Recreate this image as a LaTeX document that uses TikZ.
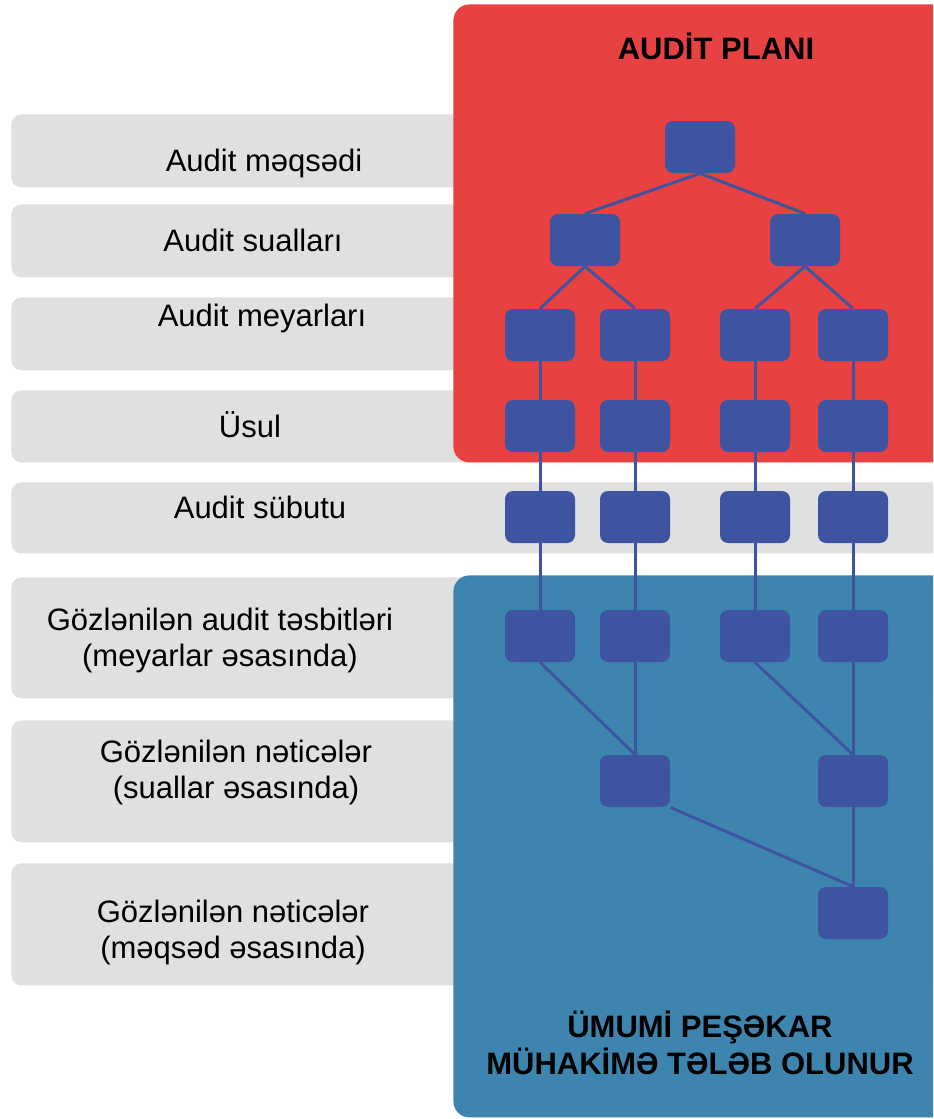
\documentclass[tikz,border=0pt]{standalone}
\usepackage{fontspec}
\setmainfont{Liberation Sans}
\usetikzlibrary{positioning, calc}
\definecolor{PlanRed}{HTML}{E74141}
\definecolor{JudgeBlue}{HTML}{3D85AE}
\definecolor{StepBlue}{HTML}{3F54A0}
\definecolor{BandGrey}{HTML}{E0E0E0}
\tikzset{
  % Row styles
  rowband/.style={rectangle, rounded corners=5pt, fill=BandGrey, anchor=north west, minimum width=474pt, inner sep=0pt},
  rowlabel/.style={font=\fontsize{15.5}{18}\selectfont, align=center, inner sep=0pt},
  % Panel styles
  panel/.style={rectangle, rounded corners=8pt, anchor=north west, minimum width=254pt, inner sep=0pt},
  paneltitle/.style={font=\fontsize{15.5}{18.5}\selectfont\bfseries, align=center, inner sep=0pt},
  % Tree styles
  stepbox/.style={rectangle, rounded corners=4pt, fill=StepBlue, minimum width=35pt, minimum height=26pt, inner sep=0pt},
  link/.style={StepBlue, line width=1.5pt}
}

\begin{document}
\begin{tikzpicture}[x=0.5pt, y=-0.5pt]
  \useasboundingbox (0,0) rectangle (933,1119);
  \clip (0,0) rectangle (933,1119);

  % grey rows
  \node[rowband, minimum height=36.5pt] (band1) at (11,114) {};
  \node[rowband, minimum height=36.5pt] (band2) at (11,204) {};
  \node[rowband, minimum height=36.5pt] (band3) at (11,297) {};
  \node[rowband, minimum height=36pt] (band4) at (11,390) {};
  \node[rowband, minimum height=35.5pt] (band5) at (11,482) {};
  \node[rowband, minimum height=60.5pt] (band6) at (11,577) {};
  \node[rowband, minimum height=61pt] (band7) at (11,720) {};
  \node[rowband, minimum height=61pt] (band8) at (11,863) {};

  \node[rowlabel] (lbl1) at (264,163) {Audit məqsədi};
  \node[rowlabel] (lbl2) at (253,240) {Audit sualları};
  \node[rowlabel] (lbl3) at (262,318) {Audit meyarları};
  \node[rowlabel] (lbl4) at (250,425) {Üsul};
  \node[rowlabel] (lbl5) at (260,507) {Audit sübutu};
  \node[rowlabel] (lbl6) at (220,640) {Gözlənilən audit təsbitləri\\(meyarlar əsasında)};
  \node[rowlabel] (lbl7) at (236,772) {Gözlənilən nəticələr\\(suallar əsasında)};
  \node[rowlabel] (lbl8) at (233,932) {Gözlənilən nəticələr\\(məqsəd əsasında)};

  % panels
  \node[panel, fill=PlanRed, minimum height=229pt] (plan) at (453,4) {};
  \node[panel, fill=JudgeBlue, minimum height=271pt] (judge) at (453,575) {};
  \node[paneltitle] (plantitle) at (716,46) {AUDİT PLANI};
  \node[paneltitle] (judgetitle) at (700,1043) {ÜMUMİ PEŞƏKAR\\MÜHAKİMƏ TƏLƏB OLUNUR};

  % tree
  \node[stepbox] (root) at (700,147) {};
  \node[stepbox] (ques1) at (585,240) {};
  \node[stepbox] (ques2) at (805,240) {};
  \foreach \i/\x in {1/540, 2/635, 3/755, 4/853} {
    \node[stepbox] (crit\i) at (\x,335) {};
    \node[stepbox] (meth\i) at (\x,426) {};
    \node[stepbox] (evid\i) at (\x,517) {};
    \node[stepbox] (find\i) at (\x,636) {};
    \draw[link] (crit\i.south) -- (meth\i.north);
    \draw[link] (meth\i.south) -- (evid\i.north);
    \draw[link] (evid\i.south) -- (find\i.north);
  }
  \node[stepbox] (concl1) at (635,781) {};
  \node[stepbox] (concl2) at (853,781) {};
  \node[stepbox] (final) at (853,913) {};

  \draw[link] (root.south) -- (ques1.north);
  \draw[link] (root.south) -- (ques2.north);
  \draw[link] (ques1.south) -- (crit1.north);
  \draw[link] (ques1.south) -- (crit2.north);
  \draw[link] (ques2.south) -- (crit3.north);
  \draw[link] (ques2.south) -- (crit4.north);
  \draw[link] (find1.south) -- (concl1.north);
  \draw[link] (find2.south) -- (concl1.north);
  \draw[link] (find3.south) -- (concl2.north);
  \draw[link] (find4.south) -- (concl2.north);
  \draw[link] (concl1.south east) -- (final.north);
  \draw[link] (concl2.south) -- (final.north);
\end{tikzpicture}
\end{document}
